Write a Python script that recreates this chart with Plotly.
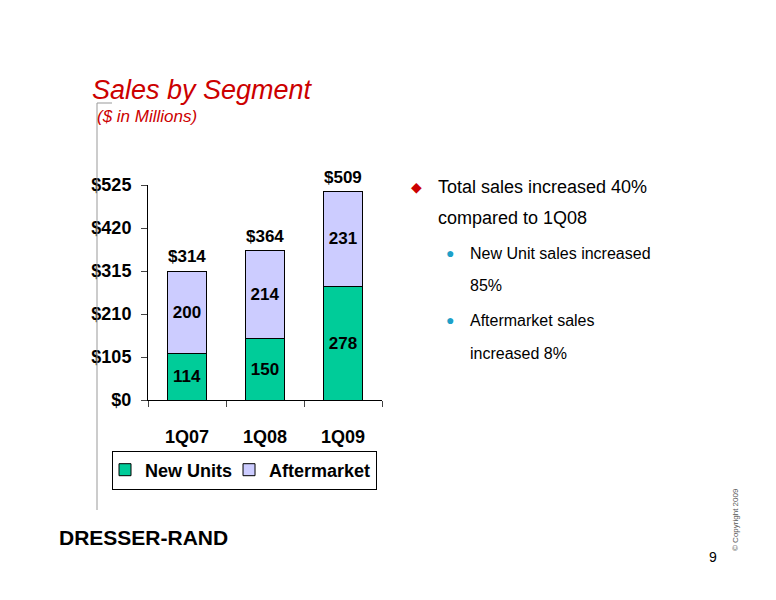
import plotly.graph_objects as go

categories = ["1Q07", "1Q08", "1Q09"]
new_units = [114, 150, 278]
aftermarket = [200, 214, 231]
totals = ["$314", "$364", "$509"]
tick_vals = [0, 105, 210, 315, 420, 525]
tick_text = ["$0", "$105", "$210", "$315", "$420", "$525"]

W, H = 776, 600
OFF = 8  # browser body margin


def px(x):
    return (x - OFF) / W


def py(y):
    return 1 - (y - OFF) / H


lbl = dict(family="Liberation Sans", size=17, color="black")

fig = go.Figure()
fig.add_trace(go.Bar(
    x=categories, y=new_units, name="<b>New Units</b>",
    marker=dict(color="#00CC99", line=dict(color="black", width=1)),
    text=new_units, textposition="inside", insidetextanchor="middle",
    textfont=lbl, texttemplate="<b>%{text}</b>",
))
fig.add_trace(go.Bar(
    x=categories, y=aftermarket, name="<b>Aftermarket</b>",
    marker=dict(color="#CCCCFF", line=dict(color="black", width=1)),
    text=aftermarket, textposition="inside", insidetextanchor="middle",
    textfont=lbl, texttemplate="<b>%{text}</b>",
))

for c, n, a, t in zip(categories, new_units, aftermarket, totals):
    fig.add_annotation(x=c, y=n + a, text=f"<b>{t}</b>", showarrow=False,
                       yanchor="bottom", yshift=3, font=lbl)

fig.update_layout(
    width=W, height=H, barmode="stack", bargap=0.49,
    paper_bgcolor="white", plot_bgcolor="white",
    margin=dict(l=0, r=0, t=0, b=0, autoexpand=False),
    showlegend=True,
    legend=dict(orientation="h", traceorder="normal",
                x=px(112), y=py(470), xanchor="left", yanchor="middle",
                bordercolor="black", borderwidth=1, itemwidth=30,
                tracegroupgap=0, indentation=-8,
                font=dict(family="Liberation Sans", size=18, color="black")),
    xaxis=dict(domain=[px(148), px(382)], showline=True, linecolor="black",
               ticks="outside", tickson="boundaries", ticklen=6,
               tickvals=categories, ticktext=[f"<b>{c}</b>" for c in categories],
               tickfont=dict(family="Liberation Sans", size=18, color="black"),
               ticklabelstandoff=20, automargin=False),
    yaxis=dict(domain=[py(400), py(185)], range=[0, 525],
               tickvals=tick_vals, ticktext=[f"<b>{t}</b>" for t in tick_text],
               showline=True, linecolor="black", ticks="outside", ticklen=6,
               showgrid=False, zeroline=False, automargin=False,
               tickfont=dict(family="Liberation Sans", size=18, color="black"),
               ticklabelstandoff=6),
)

# page decorations
fig.add_shape(type="line", xref="paper", yref="paper",
              x0=px(97), x1=px(97), y0=py(103), y1=py(510),
              line=dict(color="#999999", width=1))
fig.add_shape(type="line", xref="paper", yref="paper",
              x0=px(97), x1=px(112), y0=py(103), y1=py(103),
              line=dict(color="#999999", width=1))


def txt(x, y, s, size, color="black", anchor="left", angle=0, fam="Liberation Sans"):
    fig.add_annotation(xref="paper", yref="paper", x=px(x), y=py(y), text=s,
                       showarrow=False, xanchor=anchor, yanchor="middle",
                       textangle=angle,
                       font=dict(family=fam, size=size, color=color))


txt(90, 90, "<i>Sales by Segment</i>", 27, "#CC0000")
txt(95, 117, "<i>($ in Millions)</i>", 17, "#CC0000")
txt(409, 187, "◆", 14, "#CC0000")
txt(436, 187, "Total sales increased 40%", 18)
txt(436, 218, "compared to 1Q08", 18)
txt(444, 253, "●", 14, "#1EA0C8")
txt(468, 253, "New Unit sales increased", 16)
txt(468, 285, "85%", 16)
txt(444, 320, "●", 14, "#1EA0C8")
txt(468, 320, "Aftermarket sales", 16)
txt(468, 353, "increased 8%", 16)
txt(57, 537, "<b>DRESSER-RAND</b>", 21, "black",
    fam="Liberation Sans Narrow, Arial Narrow, Liberation Sans")
txt(719, 557, "9", 14, anchor="right")
txt(735, 520, "© Copyright 2009", 8, "#555555", anchor="center", angle=-90)

fig.write_html("out.html")
